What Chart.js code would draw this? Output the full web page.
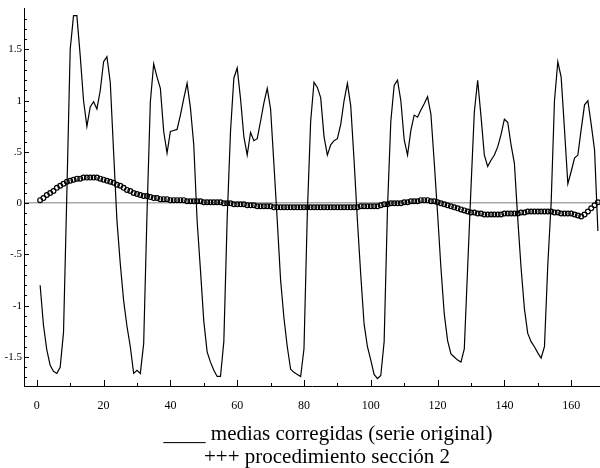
<!DOCTYPE html>
<html>
<head>
<meta charset="utf-8">
<script src="https://cdn.jsdelivr.net/npm/chart.js@4/dist/chart.umd.min.js"></script>
<style>
  html, body { margin: 0; padding: 0; background: #fff; }
  #grafico { display: block; }
</style>
</head>
<body>
<canvas id="grafico" width="600" height="468"></canvas>
<script>
// medias corregidas (serie original), un valor por periodo
var serieOriginal = [
  -0.80, -1.19, -1.43, -1.58, -1.64, -1.66, -1.60, -1.26, 0.10, 1.50, 1.83, 1.83,
  1.44, 1.00, 0.75, 0.94, 0.99, 0.92, 1.10, 1.38, 1.43, 1.18, 0.50, -0.17,
  -0.59, -0.95, -1.20, -1.40, -1.66, -1.63, -1.66, -1.37, -0.10, 0.99, 1.36, 1.23,
  1.12, 0.70, 0.49, 0.70, 0.71, 0.72, 0.86, 1.02, 1.17, 0.93, 0.57, -0.17,
  -0.65, -1.15, -1.45, -1.55, -1.63, -1.69, -1.69, -1.35, -0.15, 0.70, 1.22, 1.32,
  1.02, 0.65, 0.47, 0.69, 0.61, 0.63, 0.80, 0.98, 1.12, 0.92, 0.38, -0.17,
  -0.75, -1.12, -1.40, -1.62, -1.65, -1.67, -1.69, -1.42, -0.10, 0.80, 1.18, 1.13,
  1.03, 0.65, 0.47, 0.57, 0.61, 0.63, 0.77, 1.00, 1.17, 0.95, 0.42, -0.17,
  -0.70, -1.18, -1.40, -1.53, -1.67, -1.71, -1.68, -1.35, -0.05, 0.80, 1.15, 1.20,
  1.00, 0.62, 0.47, 0.71, 0.86, 0.84, 0.91, 0.97, 1.04, 0.87, 0.40, -0.10,
  -0.63, -1.08, -1.34, -1.47, -1.50, -1.53, -1.55, -1.42, -0.63, 0.15, 0.89, 1.20,
  0.85, 0.47, 0.36, 0.42, 0.47, 0.55, 0.67, 0.82, 0.79, 0.57, 0.39, -0.15,
  -0.63, -1.03, -1.27, -1.35, -1.40, -1.46, -1.51, -1.40, -0.60, 0.00, 1.00, 1.38,
  1.23, 0.72, 0.19, 0.31, 0.44, 0.47, 0.72, 0.96, 1.00, 0.77, 0.52, -0.27
];

// procedimiento sección 2 (círculos)
var procedimiento = [
  0.03, 0.05, 0.08, 0.10, 0.12, 0.15, 0.17, 0.19, 0.21, 0.22, 0.23, 0.24,
  0.24, 0.25, 0.25, 0.25, 0.25, 0.25, 0.24, 0.23, 0.22, 0.21, 0.20, 0.18,
  0.17, 0.15, 0.13, 0.12, 0.10, 0.09, 0.08, 0.07, 0.07, 0.06, 0.05, 0.05,
  0.04, 0.04, 0.04, 0.03, 0.03, 0.03, 0.03, 0.03, 0.02, 0.02, 0.02, 0.02,
  0.02, 0.01, 0.01, 0.01, 0.01, 0.01, 0.01, 0.00, 0.00, 0.00, -0.01, -0.01,
  -0.01, -0.01, -0.02, -0.02, -0.02, -0.03, -0.03, -0.03, -0.03, -0.03, -0.04, -0.04,
  -0.04, -0.04, -0.04, -0.04, -0.04, -0.04, -0.04, -0.04, -0.04, -0.04, -0.04, -0.04,
  -0.04, -0.04, -0.04, -0.04, -0.04, -0.04, -0.04, -0.04, -0.04, -0.04, -0.04, -0.04,
  -0.03, -0.03, -0.03, -0.03, -0.03, -0.03, -0.02, -0.01, -0.01, 0.00, 0.00, 0.00,
  0.00, 0.01, 0.01, 0.02, 0.02, 0.02, 0.03, 0.03, 0.03, 0.02, 0.02, 0.01,
  0.00, -0.01, -0.02, -0.03, -0.04, -0.05, -0.06, -0.07, -0.08, -0.09, -0.09, -0.10,
  -0.10, -0.11, -0.11, -0.11, -0.11, -0.11, -0.11, -0.10, -0.10, -0.10, -0.10, -0.10,
  -0.09, -0.09, -0.08, -0.08, -0.08, -0.08, -0.08, -0.08, -0.08, -0.08, -0.09, -0.09,
  -0.10, -0.10, -0.10, -0.10, -0.11, -0.12, -0.13, -0.11, -0.08, -0.05, -0.02, 0.01
];

// ejes
var valoresX = [0, 20, 40, 60, 80, 100, 120, 140, 160];
var etiquetasX = ['0', '20', '40', '60', '80', '100', '120', '140', '160'];
var valoresY = [-1.5, -1, -0.5, 0, 0.5, 1, 1.5];
var etiquetasY = ['-1.5', '-1', '-.5', '0', '.5', '1', '1.5'];

var leyenda = [
  '____ medias corregidas (serie original)',
  '+++ procedimiento sección 2'
];

var periodos = serieOriginal.map(function (_, i) { return i + 1; });

function puntos(valores) {
  return valores.map(function (v, i) { return { x: periodos[i], y: v }; });
}

// marcas de los ejes hacia adentro (mayores y menores)
var marcasEjes = {
  id: 'marcasEjes',
  afterDraw: function (chart) {
    var ctx = chart.ctx;
    var area = chart.chartArea;
    var sx = chart.scales.x, sy = chart.scales.y;
    ctx.save();
    ctx.strokeStyle = '#000';
    ctx.lineWidth = 1;
    ctx.beginPath();
    for (var v = 0; v <= 160; v += 10) {
      var px = Math.round(sx.getPixelForValue(v)) + 0.5;
      var l = (v % 20 === 0) ? 6 : 3;
      ctx.moveTo(px, area.bottom);
      ctx.lineTo(px, area.bottom - l);
    }
    for (var k = -17; k <= 18; k++) {
      var py = Math.round(sy.getPixelForValue(k / 10)) + 0.5;
      var m = (k % 5 === 0) ? 5 : 3;
      ctx.moveTo(area.left, py);
      ctx.lineTo(area.left + m, py);
    }
    ctx.stroke();
    ctx.restore();
  }
};

// texto de leyenda bajo el eje
var textoLeyenda = {
  id: 'textoLeyenda',
  afterDraw: function (chart) {
    var ctx = chart.ctx;
    ctx.save();
    ctx.fillStyle = '#000';
    ctx.font = '21px "Liberation Serif", "Times New Roman", serif';
    ctx.textAlign = 'center';
    ctx.textBaseline = 'middle';
    ctx.fillText(leyenda[0], 328, 434);
    ctx.fillText(leyenda[1], 327, 457);
    ctx.restore();
  }
};

var fuenteEjes = { family: '"Liberation Serif", "Times New Roman", serif', size: 12 };

new Chart(document.getElementById('grafico').getContext('2d'), {
  type: 'scatter',
  data: {
    datasets: [
      {
        label: 'medias corregidas (serie original)',
        data: puntos(serieOriginal),
        showLine: true,
        borderColor: '#000',
        borderWidth: 1.2,
        pointRadius: 0,
        tension: 0,
        order: 1
      },
      {
        label: 'procedimiento sección 2',
        data: puntos(procedimiento),
        showLine: false,
        pointStyle: 'circle',
        pointRadius: 2.4,
        pointBorderWidth: 1.2,
        pointBorderColor: '#000',
        pointBackgroundColor: 'rgba(255,255,255,0)',
        order: 2
      }
    ]
  },
  options: {
    responsive: false,
    animation: false,
    events: [],
    layout: { autoPadding: false, padding: { top: 6, left: 0, right: 0, bottom: 0 } },
    plugins: {
      legend: { display: false },
      tooltip: { enabled: false },
      title: { display: false }
    },
    scales: {
      x: {
        type: 'linear',
        min: -3.83,
        max: 168.63,
        afterFit: function (scale) { scale.height = 82; },
        afterBuildTicks: function (scale) {
          scale.ticks = valoresX.map(function (v) { return { value: v }; });
        },
        grid: { display: false, drawTicks: false },
        border: { display: true, color: '#000', width: 1 },
        ticks: {
          autoSkip: false,
          maxRotation: 0,
          padding: 13,
          color: '#000',
          font: fuenteEjes,
          callback: function (v, i) { return etiquetasX[i]; }
        }
      },
      y: {
        type: 'linear',
        min: -1.783,
        max: 1.899,
        afterFit: function (scale) { scale.width = 24; },
        afterBuildTicks: function (scale) {
          scale.ticks = valoresY.map(function (v) { return { value: v }; });
        },
        grid: {
          drawTicks: false,
          lineWidth: 1.5,
          color: function (c) {
            return (c.tick && c.tick.value === 0) ? '#a9a9a9' : 'rgba(0,0,0,0)';
          }
        },
        border: { display: true, color: '#000', width: 1 },
        ticks: {
          autoSkip: false,
          padding: 2,
          color: '#000',
          font: { family: fuenteEjes.family, size: 11 },
          callback: function (v, i) { return etiquetasY[i]; }
        }
      }
    }
  },
  plugins: [marcasEjes, textoLeyenda]
});
</script>
</body>
</html>
